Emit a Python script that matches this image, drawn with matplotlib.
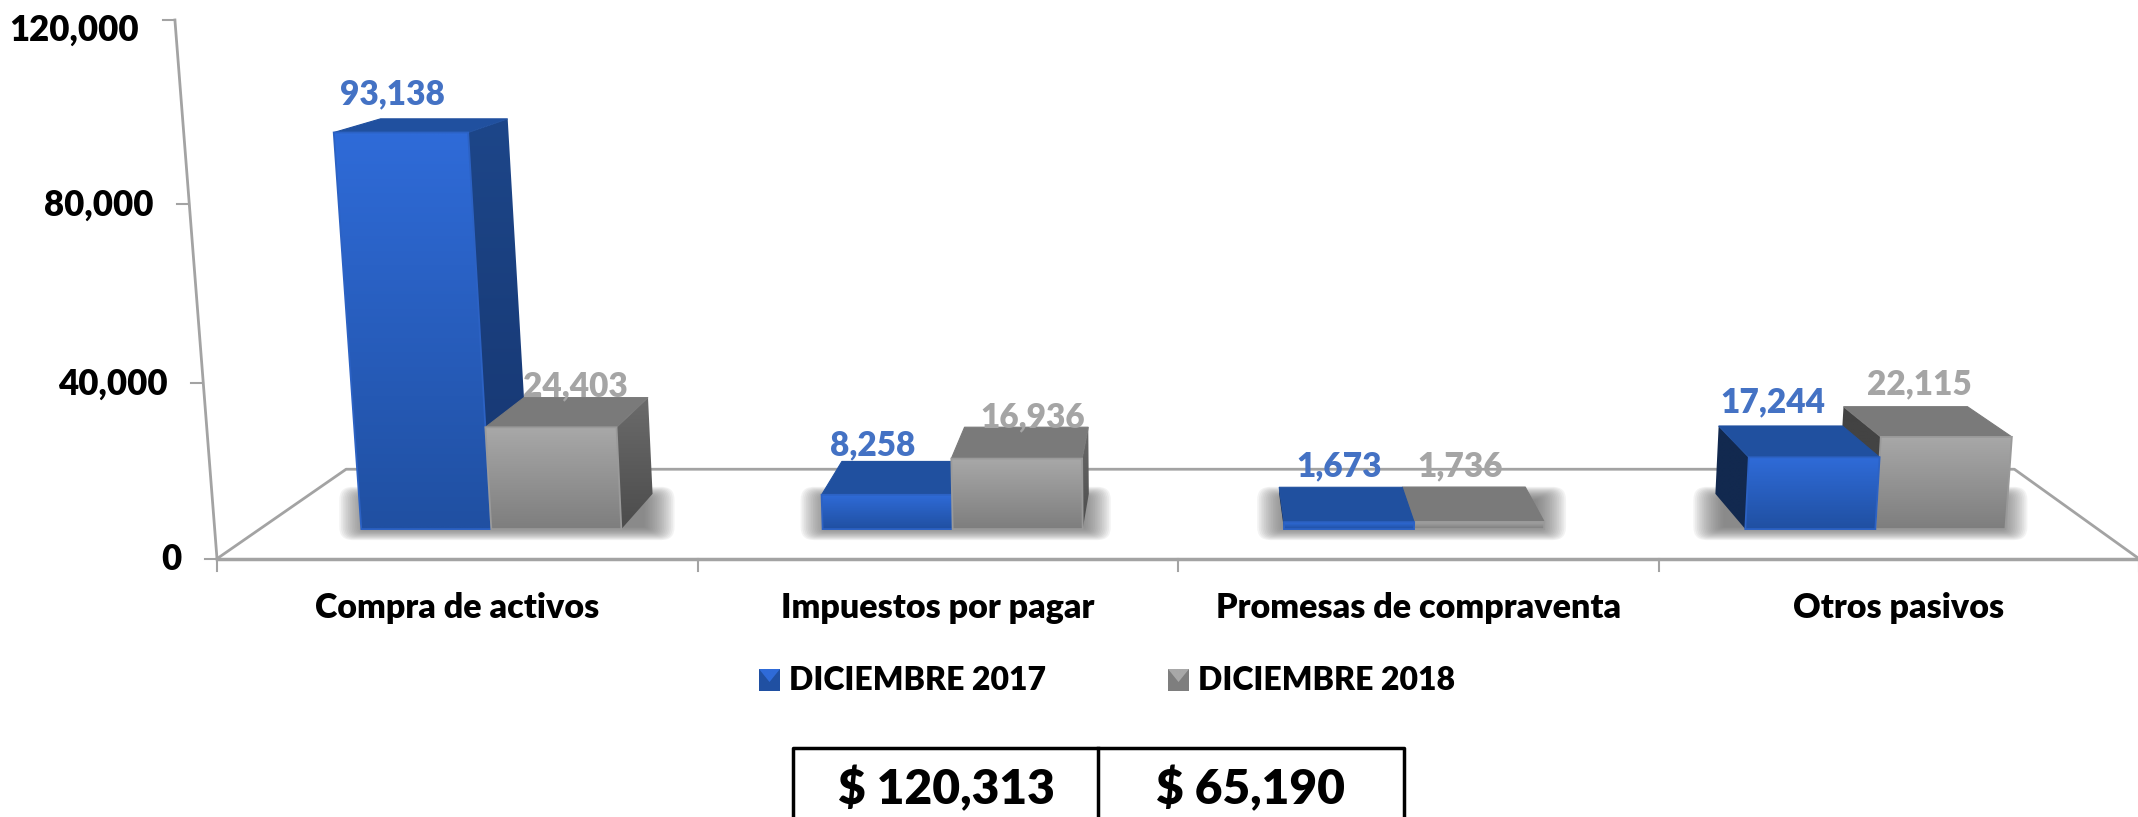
import numpy as np
import matplotlib
matplotlib.use('Agg')
import matplotlib.pyplot as plt
from matplotlib.colors import to_rgb
from matplotlib.patches import FancyBboxPatch, Polygon, Rectangle

categories = ['Compra de activos', 'Impuestos por pagar', 'Promesas de compraventa', 'Otros pasivos']
dic_2017 = [93138, 8258, 1673, 17244]
dic_2018 = [24403, 16936, 1736, 22115]
series_names = ['DICIEMBRE 2017', 'DICIEMBRE 2018']
y_ticks = [0, 40000, 80000, 120000]
totals = ['$ 120,313', '$ 65,190']

plt.rcParams['font.family'] = ['Lato', 'DejaVu Sans']
plt.rcParams['font.weight'] = 'heavy'

# perspective set-up, all in output pixels
X0, CAT_W, Y0 = 217, 480.5, 558.7
VP_X, VP_Y = 1195, -119      # where depth lines meet
VERT_X, VERT_DIST = 1178, 12300  # where upright lines meet
K, C = 4.33 / 1000, 6.82e-5
Z_FRONT, Z_BACK, Z_FLOOR = 0.0437, 0.0957, 0.132
BAR_W = 0.283


def bar_mid(i):
    return i + 0.5 + 0.004 + 0.004 * i


def project(x, value, z=0.0):
    xf = X0 + CAT_W * x
    h = value * K
    rise = h / (1 - h * C)
    sx = xf + (xf - VERT_X) * rise / VERT_DIST
    sy = Y0 - rise
    return sx + (VP_X - sx) * z, sy + (VP_Y - sy) * z


def lerp_colors(c1, c2, n=64):
    a, b = np.array(to_rgb(c1)), np.array(to_rgb(c2))
    t = np.linspace(0, 1, n)[:, None, None]
    return (a[None, None, :] * (1 - t) + b[None, None, :] * t)


def grad_face(ax, pts, top, bottom, z):
    pts = np.array(pts)
    poly = Polygon(pts, closed=True, fc='none', ec='none', zorder=z)
    ax.add_patch(poly)
    im = ax.imshow(lerp_colors(top, bottom), extent=(pts[:, 0].min(), pts[:, 0].max(), pts[:, 1].max(), pts[:, 1].min()),
                   aspect='auto', interpolation='bilinear', zorder=z)
    im.set_clip_path(poly)


def soft_shadow(ax, left, right, top, bottom, pad_x, pad_y, z):
    # nested rounded boxes with a low alpha add up to a fade
    for t in np.linspace(1, 0, 18):
        px, py = pad_x * t, pad_y * t
        ax.add_patch(FancyBboxPatch((left - px, top - py), right - left + 2 * px, bottom - top + 2 * py,
                                    boxstyle=f'round,pad=0,rounding_size={max(py, 1):.1f}',
                                    fc='#6a6a6a', ec='none', lw=0, alpha=0.075, zorder=z))


def draw_bar(ax, x, value, pal, z):
    x1 = x + BAR_W
    fl = project(x, value, Z_FRONT)
    fr = project(x1, value, Z_FRONT)
    bl = project(x, value, Z_BACK)
    br = project(x1, value, Z_BACK)
    fl0 = project(x, 0, Z_FRONT)
    fr0 = project(x1, 0, Z_FRONT)
    bl0 = project(x, 0, Z_BACK)
    br0 = project(x1, 0, Z_BACK)
    if fr0[0] < VP_X:
        grad_face(ax, [fr, br, br0, fr0], pal['side_top'], pal['side_bot'], z)
    else:
        grad_face(ax, [fl, bl, bl0, fl0], pal['left'], pal['left'], z)
    ax.add_patch(Polygon([fl, bl, br, fr], closed=True, fc=pal['roof'], ec=pal['roof'], lw=0.8, zorder=z + 0.1))
    grad_face(ax, [fl, fr, fr0, fl0], pal['top'], pal['bot'], z + 0.2)
    ax.add_patch(Polygon([fl, fr, fr0, fl0], closed=True, fc='none', ec=pal['edge'], lw=1.3, zorder=z + 0.3))


blue = dict(top='#2f6bd8', bot='#2050a2', roof='#20509f', side_top='#1d4689', side_bot='#163670', left='#12294f', edge='#2c62c4')
gray = dict(top='#a8a8a8', bot='#7e7e7e', roof='#7a7a7a', side_top='#6b6b6b', side_bot='#4c4c4c', left='#434343', edge='#9a9a9a')

fig = plt.figure(figsize=(21.38, 8.17), dpi=100)
ax = fig.add_axes([0, 0, 1, 1])
ax.axis('off')

# floor and value axis
line_c = '#a3a3a3'
corner_l = project(0, 0, Z_FLOOR)
corner_r = project(len(categories), 0, Z_FLOOR)
ax.plot(*zip(project(0, 0), corner_l, corner_r, project(len(categories), 0)), color=line_c, lw=2, zorder=1)
ax.plot(*zip(project(0, 0), project(len(categories), 0)), color=line_c, lw=2.5, zorder=1)
ax.plot(*zip(project(0, 0), project(0, y_ticks[-1])), color=line_c, lw=2, zorder=1)
for i in range(len(categories) + 1):
    px = project(i, 0)
    ax.plot([px[0], px[0]], [px[1], px[1] + 12], color=line_c, lw=1.5, zorder=1)
for v in y_ticks:
    px = project(0, v)
    ax.plot([px[0] - 12, px[0]], [px[1], px[1]], color=line_c, lw=1.5, zorder=1)
    ax.text(px[0] - 36, max(px[1] + 1, 30), f'{v:,}', ha='right', va='center', fontsize=25, color='black')

# soft shadows under each pair
for i in range(len(categories)):
    ends = [project(bar_mid(i) - BAR_W, 0, Z_FRONT)[0], project(bar_mid(i) - BAR_W, 0, Z_BACK)[0],
            project(bar_mid(i) + BAR_W, 0, Z_FRONT)[0], project(bar_mid(i) + BAR_W, 0, Z_BACK)[0]]
    top = project(bar_mid(i), 0, Z_BACK)[1]
    bottom = project(bar_mid(i), 0, Z_FRONT)[1]
    soft_shadow(ax, min(ends) + 8, max(ends) - 8, top + 6, bottom - 2, 30, 13, 1.5)

# bars, far side first
z = 2
for i in range(len(categories)):
    x_a, x_b = bar_mid(i) - BAR_W, bar_mid(i)
    if project(i + 0.5, 0)[0] < VP_X:
        order = [(x_a, dic_2017[i], blue), (x_b, dic_2018[i], gray)]
    else:
        order = [(x_b, dic_2018[i], gray), (x_a, dic_2017[i], blue)]
    for x, value, pal in order:
        draw_bar(ax, x, value, pal, z)
        z += 1

# data labels, nudged from front-top centre of each bar
nudge_2017 = [(-7, -38), (-10, -49), (-4, -56), (-34, -55)]
nudge_2018 = [(26, -41), (20, -41), (-14, -56), (-20, -53)]
for i in range(len(categories)):
    for x, value, (dx, dy), col in ((i + 0.5 - BAR_W / 2, dic_2017[i], nudge_2017[i], '#4472c4'),
                                    (i + 0.5 + BAR_W / 2, dic_2018[i], nudge_2018[i], '#a5a5a5')):
        px = project(x, value, Z_FRONT)
        ax.text(px[0] + dx, px[1] + dy, f'{value:,}', ha='center', va='center', fontsize=24, color=col, zorder=50)

# category labels
for i, name in enumerate(categories):
    ax.text(project(i + 0.5, 0)[0], 608, name, ha='center', va='center', fontsize=24.5, color='black')

# legend
for left, name, pal in ((759, series_names[0], blue), (1168, series_names[1], gray)):
    ax.add_patch(Rectangle((left, 669), 21, 22, fc=pal['bot'], ec='none', zorder=5))
    grad_face(ax, [(left, 669), (left + 21, 669), (left + 10.5, 682)], pal['top'], pal['top'], 6)
    ax.text(left + 30, 680, name, ha='left', va='center', fontsize=23, color='black')

# totals box
ax.plot([793, 793, 1404, 1404], [830, 748, 748, 830], color='black', lw=2.5, zorder=5)
ax.plot([1098, 1098], [748, 830], color='black', lw=2.5, zorder=5)
ax.text(946, 789, totals[0], ha='center', va='center', fontsize=34.5, color='black')
ax.text(1251, 789, totals[1], ha='center', va='center', fontsize=34.5, color='black')

ax.set_xlim(0, 2138)
ax.set_ylim(817, 0)
fig.savefig('out.png', dpi=100, facecolor='white')
